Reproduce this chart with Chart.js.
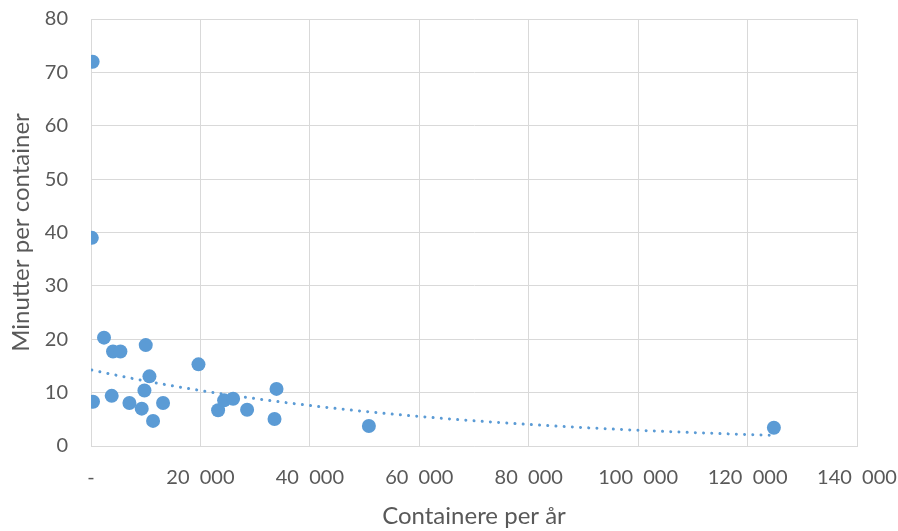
<!DOCTYPE html>
<html>
<head>
<meta charset="utf-8">
<script src="https://cdn.jsdelivr.net/npm/chart.js@4/dist/chart.umd.min.js"></script>
<style>
  html, body { margin: 0; padding: 0; background: #ffffff; }
  #wrap { width: 898px; height: 531px; }
</style>
</head>
<body>
<div id="wrap"><canvas id="c" width="898" height="531"></canvas></div>
<script>
// Containers handled per year vs. minutes spent per container
const containersPerYear = [300, 150, 366, 2378, 4024, 5377, 3786, 10005, 10681, 9767, 7023, 9273,
  11340, 13169, 19643, 23228, 24326, 25972, 28532, 33909, 33544, 50790, 124810];
const minutesPerContainer = [72, 39, 8.3, 20.3, 17.7, 17.7, 9.4, 18.9, 13.05, 10.4, 8.05, 7.0,
  4.7, 8.05, 15.3, 6.7, 8.55, 8.86, 6.8, 10.7, 5.06, 3.75, 3.43];

const xTicks = [0, 20000, 40000, 60000, 80000, 100000, 120000, 140000];
const yTicks = [0, 10, 20, 30, 40, 50, 60, 70, 80];

const xTitle = 'Containere per år';
const yTitle = 'Minutter per container';

// Exponential trendline y = a * e^(b x), least squares on ln(y)
function expFit(xs, ys) {
  const n = xs.length;
  const ly = ys.map(Math.log);
  const mx = xs.reduce((s, v) => s + v, 0) / n;
  const my = ly.reduce((s, v) => s + v, 0) / n;
  let sxy = 0, sxx = 0;
  for (let i = 0; i < n; i++) {
    sxy += (xs[i] - mx) * (ly[i] - my);
    sxx += (xs[i] - mx) * (xs[i] - mx);
  }
  const b = sxy / sxx;
  const a = Math.exp(my - b * mx);
  return { a, b };
}
const fit = expFit(containersPerYear, minutesPerContainer);
const xMin = Math.min(...containersPerYear);
const xMax = Math.max(...containersPerYear);
const trend = [];
const steps = 80;
for (let i = 0; i <= steps; i++) {
  const x = xMin + (xMax - xMin) * i / steps;
  trend.push({ x, y: fit.a * Math.exp(fit.b * x) });
}

const points = containersPerYear.map((x, i) => ({ x, y: minutesPerContainer[i] }));

const blue = '#5B9BD5';
const textColor = '#595959';
const gridColor = '#d9d9d9';
const fontFamily = 'Lato, "Open Sans", sans-serif';

// Thousands grouped with a wide gap; zero shown as a dash
function fmtX(v) {
  if (v === 0) return '-';
  return String(v).replace(/\B(?=(\d{3})+(?!\d))/g, '  ');
}

new Chart(document.getElementById('c'), {
  type: 'scatter',
  data: {
    datasets: [
      {
        label: 'Trend',
        data: trend,
        showLine: true,
        pointRadius: 0,
        borderColor: blue,
        borderWidth: 3,
        borderDash: [0.01, 8.2],
        borderCapStyle: 'round',
        tension: 0,
        order: 0
      },
      {
        label: 'Minutter per container',
        data: points,
        backgroundColor: blue,
        borderColor: blue,
        borderWidth: 0,
        pointRadius: 7,
        order: 1
      }
    ]
  },
  options: {
    responsive: false,
    animation: false,
    layout: { padding: { top: 19, right: 41, left: 0, bottom: 0 } },
    plugins: { legend: { display: false }, tooltip: { enabled: false } },
    scales: {
      x: {
        type: 'linear',
        min: 0,
        max: 140000,
        afterBuildTicks: (s) => { s.ticks = xTicks.map(v => ({ value: v })); },
        afterFit: (s) => {
          s.height = 85;
          s.paddingLeft = 0;
          s.paddingRight = 0;
        },
        grid: { color: gridColor, lineWidth: 1, drawTicks: false },
        border: { color: gridColor },
        ticks: {
          color: textColor,
          font: { family: fontFamily, size: 20 },
          padding: 20,
          maxRotation: 0,
          callback: (v) => fmtX(v)
        },
        title: {
          display: true,
          text: xTitle,
          color: textColor,
          font: { family: fontFamily, size: 24 },
          padding: { top: 4, bottom: 0 }
        }
      },
      y: {
        type: 'linear',
        min: 0,
        max: 80,
        afterBuildTicks: (s) => { s.ticks = yTicks.map(v => ({ value: v })); },
        afterFit: (s) => {
          s.width = 91;
          s.paddingTop = 0;
          s.paddingBottom = 0;
        },
        grid: { color: gridColor, lineWidth: 1, drawTicks: false },
        border: { color: gridColor },
        ticks: {
          color: textColor,
          font: { family: fontFamily, size: 20 },
          padding: 23,
          callback: (v) => String(v)
        },
        title: {
          display: true,
          text: yTitle,
          color: textColor,
          font: { family: fontFamily, size: 24 },
          padding: { top: 7, bottom: 0 }
        }
      }
    }
  }
});
</script>
</body>
</html>
